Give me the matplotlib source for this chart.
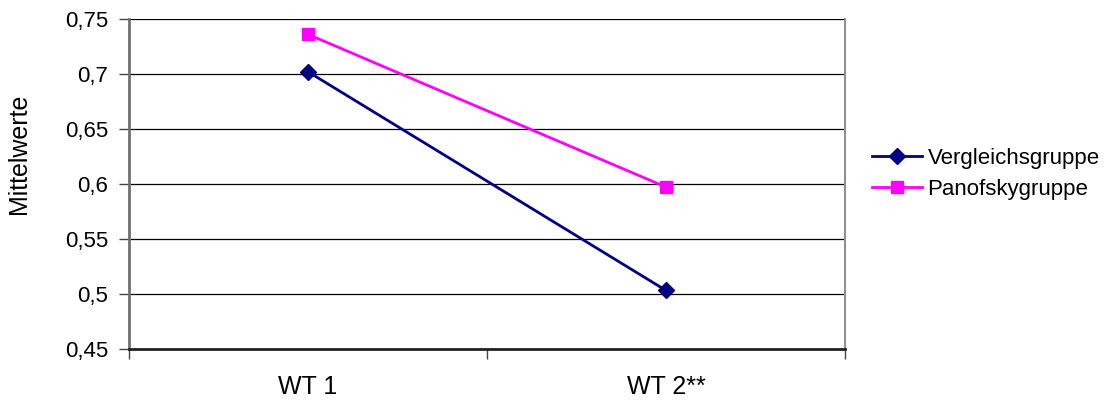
import matplotlib
matplotlib.use("Agg")
import matplotlib.pyplot as plt
import numpy as np
from matplotlib.ticker import FixedLocator, FuncFormatter

plt.rcParams['font.family'] = ['Liberation Sans', 'DejaVu Sans']

categories = ['WT 1', 'WT 2**']
vergleich = [0.702, 0.503]
panofsky = [0.736, 0.597]
series_names = ['Vergleichsgruppe', 'Panofskygruppe']
y_ticks = [0.45, 0.5, 0.55, 0.6, 0.65, 0.7, 0.75]

W, H = 1106, 403
fig = plt.figure(figsize=(W / 100, H / 100), dpi=100)
ax = fig.add_axes([129 / W, 1 - 348.7 / H, (845 - 129) / W, (348.7 - 19) / H])

x = np.arange(len(categories))
ax.plot(x, vergleich, color='#000080', lw=2, marker='D', ms=8,
        label=series_names[0], zorder=3)
ax.plot(x, panofsky, color='#ff00ff', lw=2, marker='s', ms=8,
        label=series_names[1], zorder=3)

ax.set_xlim(-0.5, len(categories) - 0.5)
ax.set_ylim(0.45, 0.75)

# y axis, Excel style with comma decimals
ax.yaxis.set_major_locator(FixedLocator(y_ticks))
ax.yaxis.set_major_formatter(FuncFormatter(lambda v, p: ('%g' % round(v, 2)).replace('.', ',')))
ax.tick_params(axis='y', direction='out', length=7, width=1, color='#444444',
               pad=8, labelsize=16)
ax.yaxis.grid(True, color='black', lw=0.9)
ax.set_axisbelow(True)

# x axis: labels at category centers, tick marks at category borders
ax.set_xticks(x)
ax.set_xticklabels(categories)
ax.xaxis.set_minor_locator(FixedLocator(np.arange(len(categories) + 1) - 0.5))
ax.tick_params(axis='x', which='major', length=0, pad=19, labelsize=18)
ax.tick_params(axis='x', which='minor', direction='out', length=7, width=1, color='#444444')

ax.spines['top'].set_visible(False)
ax.spines['left'].set_color('#707070')
ax.spines['left'].set_linewidth(2)
ax.spines['right'].set_color('#909090')
ax.spines['right'].set_linewidth(1.5)
ax.spines['bottom'].set_color('#222222')
ax.spines['bottom'].set_linewidth(2)

fig.text(19 / W, 1 - 154 / H, 'Mittelwerte', rotation=90, ha='center', va='center',
         fontsize=18)

fig.legend(loc='center left', bbox_to_anchor=(872 / W, 1 - 173.6 / H),
           frameon=False, fontsize=16, handlelength=2.25, handletextpad=0.25,
           labelspacing=0.45, borderpad=0, borderaxespad=0)

fig.savefig('out.png', dpi=100)
